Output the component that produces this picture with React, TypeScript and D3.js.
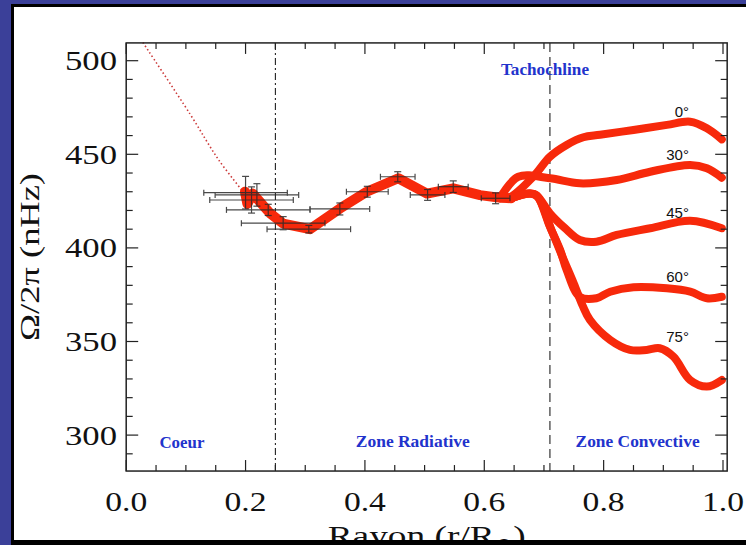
import React from 'react';
import * as d3 from 'd3';

// chart values
const xTicks = [0, 0.2, 0.4, 0.6, 0.8, 1.0];
const xTickLabels = ['0.0', '0.2', '0.4', '0.6', '0.8', '1.0'];
const yTicks = [300, 350, 400, 450, 500];
const yTickLabels = ['300', '350', '400', '450', '500'];

// radiative-zone inversion (r/R, nHz)
const radR = [0.199, 0.203, 0.212, 0.241, 0.263, 0.308, 0.358, 0.403, 0.456, 0.504, 0.548, 0.593, 0.621, 0.645];
const radW = [430, 423.5, 429, 418.5, 413, 410, 421, 430, 437.2, 429, 431.8, 428.2, 427, 426.5];

// error bars
const errR = [0.2, 0.219, 0.21, 0.238, 0.263, 0.306, 0.358, 0.404, 0.455, 0.505, 0.548, 0.619];
const errW = [429.5, 428.3, 425.6, 420.3, 413.2, 410, 420.8, 430, 438, 428.3, 432.7, 426.5];
const errDR = [0.07, 0.07, 0.07, 0.07, 0.07, 0.07, 0.05, 0.035, 0.029, 0.029, 0.025, 0.024];
const errDW = [8.7, 6, 7, 3, 3.5, 2, 3.2, 2.9, 2.7, 2.9, 3.1, 2.9];

// core extrapolation (dotted)
const coreR = [0.028, 0.107, 0.155, 0.196];
const coreW = [509.7, 471.5, 447, 430];

// convective zone, by latitude
const latLabels = ['0°', '30°', '45°', '60°', '75°'];
const latLabelW = [470.1, 447, 415.8, 381.9, 349.9];
const lat0R = [0.626, 0.643, 0.682, 0.71, 0.738, 0.766, 0.794, 0.85, 0.906, 0.945, 0.973, 0.998];
const lat0W = [426.5, 427.1, 438, 448.7, 455, 459.1, 460.4, 463, 465.7, 467.4, 463.9, 458];
const lat30R = [0.626, 0.657, 0.71, 0.76, 0.822, 0.878, 0.945, 0.973, 0.998];
const lat30W = [426.5, 438, 437.2, 434.5, 436.3, 440.7, 444.3, 442.5, 437.5];
const lat45R = [0.645, 0.677, 0.688, 0.71, 0.735, 0.76, 0.788, 0.822, 0.878, 0.945, 0.998];
const lat45W = [426.5, 429, 428, 418.5, 410.6, 404.2, 403.3, 406.9, 410.5, 414.5, 410.5];
const lat60R = [0.645, 0.677, 0.688, 0.71, 0.727, 0.738, 0.76, 0.788, 0.811, 0.85, 0.906, 0.945, 0.973, 0.998];
const lat60W = [426.5, 429, 428, 411.3, 399, 388.2, 373.9, 373.1, 376.6, 379, 378.4, 376.6, 373.1, 373.9];
const lat75R = [0.645, 0.677, 0.69, 0.712, 0.73, 0.75, 0.765, 0.777, 0.811, 0.844, 0.872, 0.894, 0.917, 0.945, 0.973, 0.998];
const lat75W = [426.5, 429, 427, 410, 396, 381, 369, 361.5, 350.8, 345.5, 345.5, 346.4, 341.9, 329.4, 325.9, 329.4];

const coreBoundary = 0.25;
const tachocline = 0.71;
const zoneLabels = ['Coeur', 'Zone Radiative', 'Zone Convective'];

const X_MAX = 1.007;
const Y_MIN = 280.8;
const Y_MAX = 509.5;

const RED = '#f7290b';
const BLUE = '#2233cc';
const SERIF = '"Liberation Serif", "DejaVu Serif", serif';

const zip = (a: number[], b: number[]) => a.map((v, i) => [v, b[i]] as [number, number]);

export default function App() {
  const x = d3.scaleLinear().domain([0, 1]).range([126.2, 723]);
  const y = d3.scaleLinear().domain([300, 500]).range([435.1, 60.7]);

  const left = x(0), right = x(X_MAX), top = y(Y_MAX), bottom = y(Y_MIN);

  const lin = d3.line<[number, number]>().x(d => x(d[0])).y(d => y(d[1]));
  const smooth = d3.line<[number, number]>().x(d => x(d[0])).y(d => y(d[1])).curve(d3.curveCatmullRom.alpha(0.5));

  const xMinor = d3.range(0, 1.0001, 0.05);
  const yMinor = d3.range(290, 501, 10);

  const branches = [
    zip(lat0R, lat0W),
    zip(lat30R, lat30W),
    zip(lat45R, lat45W),
    zip(lat60R, lat60W),
    zip(lat75R, lat75W),
  ];

  return (
    <svg width={746} height={545} style={{ position: 'absolute', left: 0, top: 0, display: 'block' }}>
      <rect x={0} y={0} width={746} height={545} fill="#3b4099" />
      <rect x={11} y={4} width={735} height={541} fill="#000" />
      <rect x={14} y={7} width={732} height={533} fill="#fff" />

      {/* region boundaries */}
      <line x1={x(coreBoundary)} x2={x(coreBoundary)} y1={top} y2={bottom} stroke="#222" strokeWidth={1.1} strokeDasharray="7 3 2 3" />
      <line x1={x(tachocline)} x2={x(tachocline)} y1={top} y2={bottom} stroke="#222" strokeWidth={1.1} strokeDasharray="9 5" />

      {/* core extrapolation */}
      <path d={smooth(zip(coreR, coreW)) ?? ''} fill="none" stroke="#cc3a3a" strokeWidth={1.6} strokeDasharray="1.5 2.5" />

      {/* convective branches */}
      {branches.map((b, i) => (
        <path key={i} d={smooth(b) ?? ''} fill="none" stroke={RED} strokeWidth={8} strokeLinejoin="round" strokeLinecap="round" />
      ))}

      {/* radiative zone */}
      <path d={lin(zip(radR, radW)) ?? ''} fill="none" stroke={RED} strokeWidth={10} strokeLinejoin="round" strokeLinecap="round" />

      {/* error bars */}
      <g stroke="#2a2a2a" strokeWidth={1.2} opacity={0.85}>
        {errR.map((r, i) => {
          const cx = x(r), cy = y(errW[i]);
          const x0 = x(r - errDR[i]), x1 = x(r + errDR[i]);
          const y0 = y(errW[i] - errDW[i]), y1 = y(errW[i] + errDW[i]);
          return (
            <g key={i}>
              <line x1={x0} x2={x1} y1={cy} y2={cy} />
              <line x1={x0} x2={x0} y1={cy - 3} y2={cy + 3} />
              <line x1={x1} x2={x1} y1={cy - 3} y2={cy + 3} />
              <line x1={cx} x2={cx} y1={y0} y2={y1} />
              <line x1={cx - 3.5} x2={cx + 3.5} y1={y0} y2={y0} />
              <line x1={cx - 3.5} x2={cx + 3.5} y1={y1} y2={y1} />
            </g>
          );
        })}
      </g>

      {/* frame and ticks */}
      <rect x={left} y={top} width={right - left} height={bottom - top} fill="none" stroke="#222" strokeWidth={1.5} />
      <g stroke="#222" strokeWidth={1.2}>
        {xMinor.map((t, i) => {
          const major = xTicks.some(m => Math.abs(m - t) < 1e-6);
          const len = major ? 11 : 6;
          return (
            <g key={i}>
              <line x1={x(t)} x2={x(t)} y1={bottom} y2={bottom - len} />
              <line x1={x(t)} x2={x(t)} y1={top} y2={top + len} />
            </g>
          );
        })}
        {yMinor.map((t, i) => {
          const major = yTicks.includes(Math.round(t));
          const len = major ? 12 : 6.5;
          return (
            <g key={i}>
              <line x1={left} x2={left + len} y1={y(t)} y2={y(t)} />
              <line x1={right} x2={right - len} y1={y(t)} y2={y(t)} />
            </g>
          );
        })}
      </g>

      {/* tick labels */}
      <g fontFamily={SERIF} fontSize={27} fill="#111">
        {yTicks.map((t, i) => (
          <text key={i} x={117} y={y(t) + 9.5} textAnchor="end" textLength={52} lengthAdjust="spacingAndGlyphs">{yTickLabels[i]}</text>
        ))}
        {xTicks.map((t, i) => (
          <text key={i} x={x(t)} y={511} textAnchor="middle" textLength={42} lengthAdjust="spacingAndGlyphs">{xTickLabels[i]}</text>
        ))}
      </g>

      {/* axis titles */}
      <text transform={`translate(39,${(top + bottom) / 2}) rotate(-90)`} textAnchor="middle" fontFamily={SERIF} fontSize={27} fill="#111" textLength={168} lengthAdjust="spacingAndGlyphs">
        Ω/2π  (nHz)
      </text>
      <text x={(left + right) / 2} y={545} textAnchor="middle" fontFamily={SERIF} fontSize={27} fill="#111" textLength={198} lengthAdjust="spacingAndGlyphs">
        Rayon (r/R<tspan fontSize={16} dy={4}>⊙</tspan><tspan dy={-4}>)</tspan>
      </text>

      {/* latitude labels */}
      <g fontFamily='"Liberation Sans", Arial, sans-serif' fontSize={15} fill="#111" textAnchor="end">
        {latLabels.map((l, i) => (
          <text key={i} x={x(0.943)} y={y(latLabelW[i])}>{l}</text>
        ))}
      </g>

      {/* zone labels */}
      <g fontFamily={SERIF} fontWeight="bold" fontSize={17} fill={BLUE}>
        <text x={159.4} y={448.4} textLength={45} lengthAdjust="spacingAndGlyphs">{zoneLabels[0]}</text>
        <text x={355.8} y={447.3} textLength={114} lengthAdjust="spacingAndGlyphs">{zoneLabels[1]}</text>
        <text x={575.6} y={446.6} textLength={124} lengthAdjust="spacingAndGlyphs">{zoneLabels[2]}</text>
        <text x={501} y={75} textLength={88} lengthAdjust="spacingAndGlyphs">Tachochline</text>
      </g>

      <rect x={11} y={540} width={735} height={5} fill="#000" />
    </svg>
  );
}
